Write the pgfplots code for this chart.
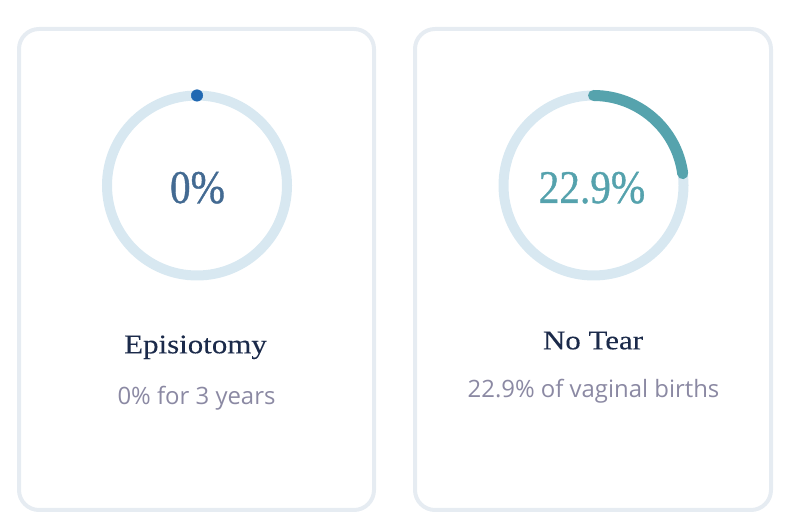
\documentclass[border=0pt]{standalone}
\usepackage{pgfplots}
\pgfplotsset{compat=1.18}
\usepackage{pgfplotstable}
\usepackage{fontspec}
\setmainfont{Liberation Serif}
\newfontfamily\numfont[FakeStretch=0.88, FakeBold=0.8]{Liberation Serif}
\newfontfamily\titlefont[FakeStretch=1.15, FakeBold=0.15]{Liberation Serif}
\newfontfamily\subfont{Open Sans}
\definecolor{cardborder}{HTML}{E6ECF2}
\definecolor{track}{HTML}{D8E8F1}
\definecolor{tealarc}{HTML}{56A3AD}
\definecolor{bluedot}{HTML}{2068B2}
\definecolor{numblue}{HTML}{436A92}
\definecolor{numteal}{HTML}{55A2AD}
\definecolor{titlecol}{HTML}{1B2A4A}
\definecolor{subcol}{HTML}{8B89A3}

\pgfplotstableread{
pct
0
}\episdata
\pgfplotstableread{
pct
22.9
}\noteardata

\begin{document}%
\begin{tikzpicture}[x=1bp,y=1bp]
\pgfplotstablegetelem{0}{pct}\of\episdata \let\episval\pgfplotsretval
\pgfplotstablegetelem{0}{pct}\of\noteardata \let\noteval\pgfplotsretval
\pgfmathsetmacro{\noteang}{-3.6*\noteval}
\useasboundingbox (0,0) rectangle (788,523);
% cards
\draw[cardborder, line width=4bp, rounded corners=20bp] (19,13) rectangle (374,494);
\draw[cardborder, line width=4bp, rounded corners=20bp] (415,13) rectangle (771,494);

\pgfplotsset{ringaxis/.style={hide axis, clip=false, x=1bp, y=1bp,
  xmin=-100, xmax=100, ymin=-100, ymax=100, anchor=center}}

% ring 1: Episiotomy
\begin{axis}[ringaxis, at={(197,337.5)}]
\addplot[only marks, mark=o, mark size=90bp, mark options={line width=10bp, draw=track}] coordinates {(0,0)};
\addplot[only marks, mark=*, mark size=5.8bp, mark options={draw=bluedot, fill=bluedot}] coordinates {(0,90)};
\end{axis}

% ring 2: No Tear
\begin{axis}[ringaxis, at={(593.5,337.5)}]
\addplot[only marks, mark=o, mark size=90bp, mark options={line width=10bp, draw=track}] coordinates {(0,0)};
\coordinate (arcstart) at (axis cs:0,90);
\end{axis}
\draw[tealarc, line width=11bp, line cap=round] (arcstart) arc[start angle=90, delta angle=\noteang, radius=90];

% texts
\node[anchor=base, inner sep=0pt, text=numblue, font=\numfont\fontsize{47}{50}\selectfont] at (197.5,320) {\episval\%};
\node[anchor=base, inner sep=0pt, text=numteal, font=\numfont\fontsize{47}{50}\selectfont] at (592,320) {\noteval\%};
\node[anchor=base, inner sep=0pt, text=titlecol, font=\titlefont\fontsize{27}{30}\selectfont] at (195.5,169.7) {Episiotomy};
\node[anchor=base, inner sep=0pt, text=titlecol, font=\titlefont\fontsize{27}{30}\selectfont] at (593,173.7) {No Tear};
\node[anchor=base, inner sep=0pt, text=subcol, font=\subfont\fontsize{24}{27}\selectfont] at (196.5,118.7) {0\% for 3 years};
\node[anchor=base, inner sep=0pt, text=subcol, font=\subfont\fontsize{24}{27}\selectfont] at (593.5,125.7) {22.9\% of vaginal births};
\end{tikzpicture}%
\end{document}
